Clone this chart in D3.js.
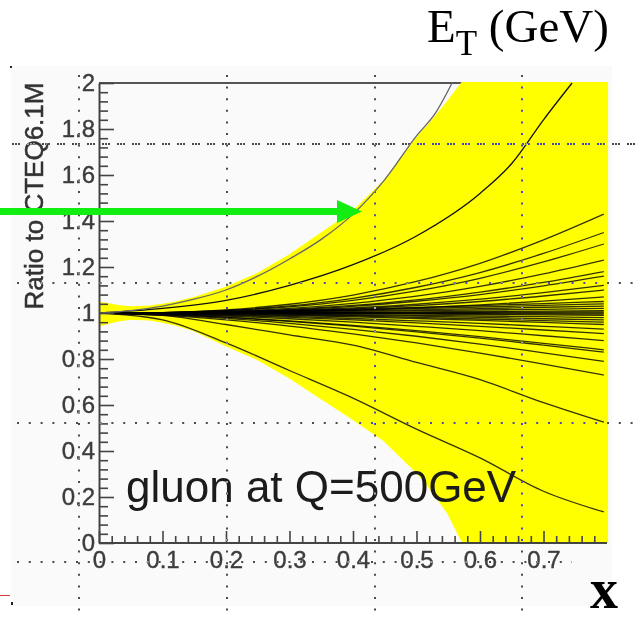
<!DOCTYPE html>
<html>
<head>
<meta charset="utf-8">
<script src="https://cdn.jsdelivr.net/npm/d3@7"></script>
<style>
  body { margin: 0; background: #fff; }
  svg { display: block; }
</style>
</head>
<body>
<svg id="chart" width="638" height="620"></svg>
<script>
// x positions shared by the PDF-set ratio curves
const xGrid = [0, 0.1, 0.2, 0.3, 0.4, 0.5, 0.6, 0.7, 0.795];

// ratio to CTEQ6.1M for each eigenvector set, sampled on xGrid
const ratioCurves = [
  [1.0, 1.002, 1.014, 1.038, 1.078, 1.137, 1.216, 1.318, 1.43],
  [1.0, 1.002, 1.011, 1.031, 1.064, 1.112, 1.176, 1.259, 1.35],
  [1.0, 1.002, 1.010, 1.027, 1.055, 1.096, 1.151, 1.222, 1.30],
  [1.0, 1.001, 1.007, 1.020, 1.042, 1.073, 1.116, 1.170, 1.23],
  [1.0, 1.001, 1.006, 1.016, 1.033, 1.057, 1.091, 1.133, 1.18],
  [1.0, 1.001, 1.005, 1.014, 1.029, 1.051, 1.080, 1.118, 1.16],
  [1.0, 1.001, 1.004, 1.011, 1.022, 1.038, 1.060, 1.089, 1.12],
  [1.0, 1.001, 1.003, 1.009, 1.018, 1.032, 1.050, 1.074, 1.10],
  [1.0, 1.000, 1.002, 1.006, 1.013, 1.022, 1.035, 1.052, 1.07],
  [1.0, 1.002, 1.006, 1.011, 1.017, 1.024, 1.032, 1.041, 1.05],
  [1.0, 1.001, 1.004, 1.008, 1.013, 1.019, 1.026, 1.033, 1.04],
  [1.0, 1.001, 1.003, 1.006, 1.010, 1.014, 1.019, 1.025, 1.03],
  [1.0, 1.001, 1.002, 1.004, 1.007, 1.010, 1.013, 1.016, 1.02],
  [1.0, 1.000, 1.001, 1.002, 1.003, 1.005, 1.006, 1.008, 1.01],
  [1.0, 1.000, 1.000, 1.001, 1.002, 1.002, 1.003, 1.004, 1.005],
  [1.0, 1.000, 1.000, 1.000, 1.000, 1.000, 1.000, 1.000, 1.000],
  [1.0, 1.000, 1.000, 0.999, 0.999, 0.998, 0.997, 0.996, 0.995],
  [1.0, 1.000, 0.999, 0.998, 0.997, 0.995, 0.994, 0.992, 0.99],
  [1.0, 0.999, 0.998, 0.996, 0.993, 0.990, 0.987, 0.984, 0.98],
  [1.0, 0.999, 0.997, 0.994, 0.990, 0.986, 0.981, 0.975, 0.97],
  [1.0, 0.999, 0.996, 0.992, 0.987, 0.981, 0.974, 0.967, 0.96],
  [1.0, 0.998, 0.994, 0.989, 0.983, 0.976, 0.968, 0.959, 0.95],
  [1.0, 0.997, 0.992, 0.985, 0.976, 0.966, 0.955, 0.942, 0.93],
  [1.0, 0.997, 0.990, 0.981, 0.970, 0.957, 0.942, 0.926, 0.91],
  [1.0, 0.996, 0.987, 0.975, 0.960, 0.942, 0.923, 0.901, 0.88],
  [1.0, 0.994, 0.982, 0.966, 0.946, 0.923, 0.897, 0.868, 0.84],
  [1.0, 0.994, 0.981, 0.964, 0.943, 0.918, 0.891, 0.860, 0.83],
  [1.0, 0.992, 0.977, 0.955, 0.929, 0.899, 0.865, 0.827, 0.79],
  [1.0, 0.990, 0.970, 0.943, 0.909, 0.870, 0.826, 0.778, 0.73],
  [1.0, 0.990, 0.950, 0.905, 0.860, 0.785, 0.710, 0.610, 0.525],
  [1.0, 0.970, 0.870, 0.750, 0.630, 0.495, 0.370, 0.225, 0.135]
];

// the two steepest upward sets leave the frame, so they carry their own x samples
const steepX1 = [0, 0.05, 0.1, 0.15, 0.2, 0.25, 0.3, 0.35, 0.4, 0.45, 0.5, 0.53, 0.556];
const steepY1 = [1.0, 1.01, 1.03, 1.06, 1.10, 1.16, 1.235, 1.32, 1.43, 1.58, 1.77, 1.87, 2.0];
const steepX2 = [0, 0.1, 0.2, 0.3, 0.4, 0.5, 0.6, 0.65, 0.7, 0.745];
const steepY2 = [1.0, 1.02, 1.055, 1.12, 1.21, 1.335, 1.52, 1.65, 1.84, 2.0];

// uncertainty envelope (yellow band)
const bandX     = [0, 0.01, 0.03, 0.05, 0.08, 0.10, 0.12, 0.15, 0.20, 0.25, 0.30, 0.35, 0.40, 0.45, 0.50, 0.52, 0.55, 0.572, 0.58, 0.60, 0.80];
const bandUpper = [1.045, 1.04, 1.03, 1.025, 1.028, 1.035, 1.045, 1.065, 1.11, 1.17, 1.25, 1.345, 1.44, 1.575, 1.76, 1.82, 1.92, 2.0, 2.0, 2.0, 2.0];
const bandLower = [0.945, 0.955, 0.968, 0.975, 0.972, 0.962, 0.95, 0.925, 0.86, 0.80, 0.72, 0.63, 0.54, 0.445, 0.31, 0.245, 0.13, 0.01, 0.0, 0.0, 0.0];

// axis ticks
const xMajor = [0, 0.1, 0.2, 0.3, 0.4, 0.5, 0.6, 0.7];
const xTickLabels = ["0", "0.1", "0.2", "0.3", "0.4", "0.5", "0.6", "0.7"];
const xMinor = d3.range(0, 0.8001, 0.02).filter(v => Math.abs(v * 10 - Math.round(v * 10)) > 1e-6);
const yMajor = [0, 0.2, 0.4, 0.6, 0.8, 1, 1.2, 1.4, 1.6, 1.8, 2];
const yTickLabels = ["0", "0.2", "0.4", "0.6", "0.8", "1", "1.2", "1.4", "1.6", "1.8", "2"];
const yMinor = d3.range(0, 2.0001, 0.04).filter(v => Math.abs(v * 5 - Math.round(v * 5)) > 1e-6);

const svg = d3.select("#chart");
const x = d3.scaleLinear().domain([0, 0.8]).range([99, 607]);
const y = d3.scaleLinear().domain([0, 2]).range([543, 83]);

const defs = svg.append("defs");
defs.append("clipPath").attr("id", "plot-clip")
  .append("rect").attr("x", 99).attr("y", 81.5).attr("width", 510).attr("height", 461.5);
defs.append("filter").attr("id", "soft")
  .append("feGaussianBlur").attr("stdDeviation", 0.6);

// page background
svg.append("rect").attr("width", 638).attr("height", 620).attr("fill", "#fff");
svg.append("rect").attr("x", 11).attr("y", 66).attr("width", 601).attr("height", 540).attr("fill", "#fafafa");
svg.append("rect").attr("x", 10).attr("y", 66).attr("width", 2).attr("height", 2).attr("fill", "#222");
svg.append("rect").attr("x", 11).attr("y", 602).attr("width", 2).attr("height", 3).attr("fill", "#222");
svg.append("line").attr("x1", 0).attr("x2", 10).attr("y1", 595.5).attr("y2", 595.5)
  .attr("stroke", "#d43a3a").attr("stroke-width", 1);

// upper frame edge (partly hidden by the band)
svg.append("line")
  .attr("x1", x(0)).attr("x2", x(0.8)).attr("y1", y(2)).attr("y2", y(2))
  .attr("stroke", "#555").attr("stroke-width", 2);

const plot = svg.append("g").attr("clip-path", "url(#plot-clip)");

// yellow band
const bandData = bandX.map((v, i) => ({ x: v, lo: bandLower[i], hi: bandUpper[i] }));
plot.append("path")
  .datum(bandData)
  .attr("d", d3.area().x(d => x(d.x)).y0(d => y(d.lo)).y1(d => y(d.hi)))
  .attr("fill", "#ffff00")
  .attr("stroke", "#ffff00")
  .attr("stroke-width", 2.2)
  .attr("stroke-linejoin", "round");

// ratio curves
const curveLine = d3.line().x(d => x(d[0])).y(d => y(d[1])).curve(d3.curveMonotoneX);
ratioCurves.forEach(vals => {
  plot.append("path")
    .datum(xGrid.map((v, i) => [v, vals[i]]))
    .attr("d", curveLine)
    .attr("fill", "none")
    .attr("stroke", "#000")
    .attr("stroke-opacity", 0.8)
    .attr("stroke-width", 1.3);
});
plot.append("path")
  .datum(steepX2.map((v, i) => [v, steepY2[i]]))
  .attr("d", curveLine)
  .attr("fill", "none").attr("stroke", "#111").attr("stroke-width", 1.3);
plot.append("path")
  .datum(steepX1.map((v, i) => [v, steepY1[i]]))
  .attr("d", curveLine)
  .attr("fill", "none").attr("stroke", "#666").attr("stroke-width", 1.3);

// axes
const axisStyle = g => {
  g.select(".domain").attr("stroke", "#444").attr("stroke-width", 2);
  g.selectAll(".tick line").attr("stroke", "#444").attr("stroke-width", 1.6);
  g.selectAll(".tick text")
    .attr("fill", "#3c3c3c")
    .attr("stroke", "#3c3c3c")
    .attr("stroke-width", 0.4)
    .attr("font-family", "'Liberation Sans', Arial, sans-serif")
    .attr("font-size", 24)
    .attr("filter", "url(#soft)");
};

svg.append("g").attr("transform", `translate(0,${y(0)})`)
  .call(d3.axisBottom(x).tickValues(xMinor).tickSizeInner(-7).tickSizeOuter(0).tickFormat(""))
  .call(g => g.select(".domain").remove())
  .call(g => g.selectAll(".tick line").attr("stroke", "#444").attr("stroke-width", 1.6));
svg.append("g").attr("transform", `translate(0,${y(0)})`)
  .call(d3.axisBottom(x).tickValues(xMajor).tickSizeInner(-12).tickSizeOuter(0).tickPadding(8)
    .tickFormat((d, i) => xTickLabels[i]))
  .call(g => g.select(".domain").attr("d", `M${x(0)},0H${x(0.8)}`))
  .call(axisStyle);

svg.append("g").attr("transform", `translate(${x(0)},0)`)
  .call(d3.axisLeft(y).tickValues(yMinor).tickSizeInner(-9).tickSizeOuter(0).tickFormat(""))
  .call(g => g.select(".domain").remove())
  .call(g => g.selectAll(".tick line").attr("stroke", "#444").attr("stroke-width", 1.6));
svg.append("g").attr("transform", `translate(${x(0)},0)`)
  .call(d3.axisLeft(y).tickValues(yMajor).tickSizeInner(-15).tickSizeOuter(0).tickPadding(4)
    .tickFormat((d, i) => yTickLabels[i]))
  .call(axisStyle);

// axis title
svg.append("text")
  .attr("transform", "translate(43,196) rotate(-90)")
  .attr("text-anchor", "middle")
  .attr("font-family", "'Liberation Sans', Arial, sans-serif")
  .attr("font-size", 26)
  .attr("fill", "#333")
  .attr("stroke", "#333")
  .attr("stroke-width", 0.5)
  .attr("filter", "url(#soft)")
  .text("Ratio to CTEQ6.1M");

// in-plot caption
svg.append("text")
  .attr("x", 126).attr("y", 502)
  .attr("font-family", "'Liberation Sans', Arial, sans-serif")
  .attr("font-size", 44)
  .attr("fill", "#1a1a1a")
  .attr("filter", "url(#soft)")
  .text("gluon at Q=500GeV");

// dotted guide lines (inverting dots: dark on white, blue on yellow)
const guides = svg.append("g");
const dotStyle = p => p
  .attr("stroke", "#fff").attr("stroke-opacity", 0.72).attr("stroke-width", 2)
  .attr("style", "mix-blend-mode: difference");
[[283, 17, 636], [423, 17, 636], [562, 17, 572]].forEach(([gy, x0, x1]) => {
  guides.append("path").attr("d", `M${x0},${gy}H${x1}`)
    .call(dotStyle).attr("stroke-dasharray", "2 9.8");
});
guides.append("path").attr("d", "M12,144H636")
  .call(dotStyle).attr("stroke-dasharray", "2 1 2 1 2 7");
[79, 227, 375, 522].forEach(gx => {
  guides.append("path").attr("d", `M${gx},75V620`)
    .call(dotStyle).attr("stroke-dasharray", "2 9.6");
});

// green arrow
svg.append("rect").attr("x", 0).attr("y", 208).attr("width", 340).attr("height", 7).attr("fill", "#12ee12");
svg.append("path").attr("d", "M337,200L362,211.5L337,223Z").attr("fill", "#12ee12");

// slide labels
const et = svg.append("text")
  .attr("x", 427).attr("y", 42)
  .attr("font-family", "'Liberation Serif', 'Times New Roman', serif")
  .attr("font-size", 47)
  .attr("fill", "#000");
et.append("tspan").text("E");
et.append("tspan").attr("font-size", 35).attr("dy", 13).text("T");
et.append("tspan").attr("dy", -13).text(" (GeV)");

svg.append("text")
  .attr("x", 590).attr("y", 608)
  .attr("font-family", "'Liberation Serif', 'Times New Roman', serif")
  .attr("font-size", 56)
  .attr("font-weight", "bold")
  .attr("fill", "#000")
  .text("x");
</script>
</body>
</html>
